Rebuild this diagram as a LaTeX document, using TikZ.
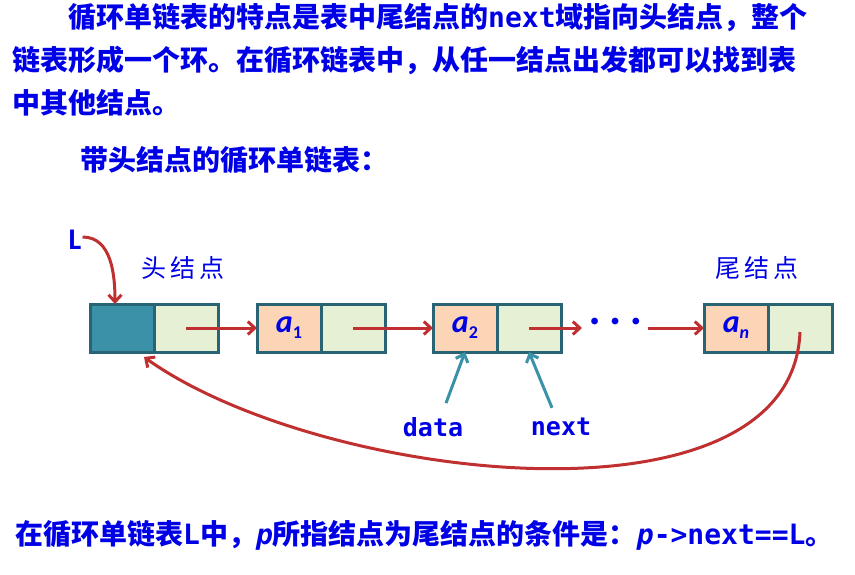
\documentclass[tikz,border=0pt]{standalone}
\usepackage{fontspec}
\newfontfamily\cjk{Noto Sans CJK SC}
\newfontfamily\code{DejaVu Sans Mono}
\newfontfamily\lab{Carlito}
\usepackage{tikz}
\usetikzlibrary{arrows.meta, positioning}
\definecolor{txtblue}{RGB}{0,0,230}
\definecolor{boxedge}{RGB}{40,100,115}
\definecolor{headfill}{RGB}{58,145,168}
\definecolor{nextfill}{RGB}{230,240,212}
\definecolor{datafill}{RGB}{251,213,181}
\definecolor{arrowred}{RGB}{192,48,48}
\definecolor{ptrteal}{RGB}{58,146,168}
\tikzset{
    datafield/.style={rectangle, minimum width=64pt, minimum height=48pt, inner sep=0pt, outer sep=0pt, draw=boxedge, line width=3pt, fill=datafill, text=txtblue, font=\lab\fontsize{32}{32}\selectfont\bfseries},
    headfield/.style={datafield, fill=headfill},
    nextfield/.style={datafield, fill=nextfill},
    para/.style={anchor=west, inner sep=0pt, text=txtblue, font=\cjk\fontsize{28}{28}\selectfont\bfseries},
    caption/.style={inner sep=0pt, text=txtblue, font=\cjk\fontsize{25}{25}\selectfont},
    codelab/.style={inner sep=0pt, text=txtblue, font=\code\fontsize{25}{25}\selectfont\bfseries},
    arrow/.style={line width=3pt, draw=arrowred, ->, >={Straight Barb[length=7pt,width=13pt]}},
    pointer/.style={arrow, draw=ptrteal}
}
\newcommand{\elem}[1]{\itshape a\raisebox{-6pt}{\upshape\fontsize{18}{18}\selectfont #1}}
\begin{document}
\begin{tikzpicture}[x=1pt, y=1pt]
    \useasboundingbox (0,0) rectangle (855,-575);

    \node (t1) [para] at (68,-18) {循环单链表的特点是表中尾结点的{\code next}域指向头结点，整个};
    \node (t2) [para] at (12,-60) {链表形成一个环。在循环链表中，从任一结点出发都可以找到表};
    \node (t3) [para] at (12,-103) {中其他结点。};
    \node (sub) [para] at (80,-160) {带头结点的循环单链表：};

    \node (h) [headfield] at (122,-328) {};
    \node (hn) [nextfield, right=0pt of h] {};
    \node (a1) [datafield, right=39pt of hn] {\elem{1}};
    \node (a1n) [nextfield, right=0pt of a1] {};
    \node (a2) [datafield, right=48pt of a1n] {\elem{2}};
    \node (a2n) [nextfield, right=0pt of a2] {};
    \node (dots) [minimum width=66pt, inner sep=0pt, text=txtblue, font=\fontsize{30}{30}\selectfont, right=21pt of a2n, yshift=4pt] {\textbullet\hspace{-1pt}\textbullet\hspace{-1pt}\textbullet};
    \node (an) [datafield, right=143pt of a2n] {\itshape a\raisebox{-6pt}{\fontsize{18}{18}\selectfont n}};
    \node (ann) [nextfield, right=0pt of an] {};

    \node (L) [inner sep=0pt, text=txtblue, font=\lab\fontsize{30}{30}\selectfont\bfseries] at (75,-240) {L};
    \node (hcap) [caption] at (183,-268) {头\,结\,点};
    \node (tcap) [caption] at (757,-268) {尾\,结\,点};

    \node (data) [codelab] at (433,-427) {data};
    \node (next) [codelab] at (561,-427) {next};

    \node (cond) [para] at (15,-535) {在循环单链表{\code L}中，{\code\itshape p}所指结点为尾结点的条件是：{\code\itshape p}{\code ->next==L}。};

    \draw [arrow] (hn.center) -- (a1.west);
    \draw [arrow] (a1n.center) -- (a2.west);
    \draw [arrow] (a2n.center) -- (dots.west |- a2n.center);
    \draw [arrow] (dots.east |- an.center) -- (an.west);
    \draw [arrow] ([xshift=1pt,yshift=3pt]L.east) to[out=0, in=90] ([xshift=-7pt]h.north);
    \draw [arrow] ([yshift=-4pt]ann.center) .. controls +(-8,-205) and +(175,-125) .. ([xshift=-10pt,yshift=-5pt]h.south east);
    \draw [pointer] ([xshift=13pt,yshift=14pt]data.north) -- (a2.south);
    \draw [pointer] ([xshift=-9pt,yshift=10pt]next.north) -- (a2n.south);
\end{tikzpicture}
\end{document}
